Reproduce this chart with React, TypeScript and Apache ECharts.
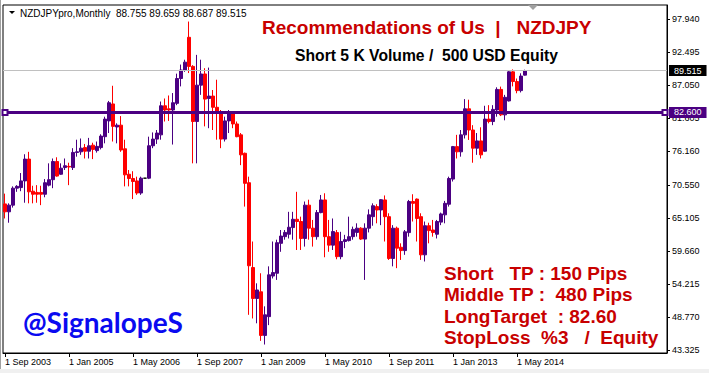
import React, { useEffect, useRef } from 'react';
import * as echarts from 'echarts';

// Monthly NZDJPY candles, Sep 2003 .. Jul 2014
const opens = [
  67.5, 66.2, 67.3, 70.1, 70.2, 71.3, 74.9, 69.6, 69.4, 69.4,
  69.1, 70.6, 71.5, 74.5, 72.4, 73.5, 73.7, 73.5, 76.0, 76.1,
  76.8, 76.2, 77.2, 76.3, 76.8, 78.6, 81.2, 84.0, 80.2, 80.5,
  76.6, 72.4, 71.7, 71.3, 69.3, 71.75, 71.75, 77.1, 78.2, 78.9,
  83.7, 83.2, 83.0, 84.1, 88.2, 89.6, 95.0, 90.2, 81.1, 87.1,
  88.95, 84.9, 85.3, 83.45, 82.5, 78.2, 81.2, 82.46, 80.7, 78.9,
  75.86, 71.0, 57.0, 51.9, 53.0, 45.8, 48.9, 55.6, 56.06, 61.0,
  62.1, 62.5, 63.6, 64.97, 64.6, 61.8, 67.3, 63.5, 62.1, 66.07,
  68.16, 62.1, 60.7, 62.77, 58.8, 61.3, 61.45, 62.1, 62.8, 63.5,
  61.7, 63.5, 65.4, 67.06, 66.5, 68.16, 65.4, 58.5, 63.5, 60.35,
  59.8, 62.77, 67.9, 68.3, 65.4, 59.1, 63.9, 63.2, 62.5, 64.5,
  65.7, 67.45, 71.6, 76.96, 76.1, 78.9, 83.2, 79.7, 76.7, 77.9,
  76.2, 81.5, 81.1, 83.0, 86.4, 82.2, 84.5, 89.3, 87.7, 86.2,
  88.755,
];
const highs = [
  69.2, 67.6, 70.4, 70.6, 72.6, 75.7, 76.1, 70.5, 70.6, 70.5,
  71.6, 74.2, 75.0, 75.2, 74.2, 75.0, 74.3, 76.7, 78.1, 78.3,
  77.4, 78.4, 77.6, 77.8, 79.0, 81.9, 84.5, 87.0, 80.8, 82.0,
  78.1, 73.1, 72.9, 72.0, 72.0, 71.75, 78.6, 79.3, 79.7, 84.4,
  84.9, 85.4, 85.8, 89.0, 90.5, 91.3, 97.6, 90.4, 92.1, 91.3,
  89.9, 90.0, 86.3, 88.0, 83.0, 81.9, 83.0, 82.7, 81.1, 79.2,
  75.97, 72.0, 61.3, 54.4, 56.06, 50.6, 57.2, 61.3, 61.6, 63.2,
  63.2, 66.2, 66.2, 69.5, 65.4, 67.9, 68.2, 64.86, 66.5, 68.98,
  69.26, 64.86, 65.1, 63.2, 62.9, 62.4, 65.4, 63.76, 64.3, 63.65,
  64.3, 66.6, 67.6, 67.45, 68.3, 68.9, 65.96, 64.0, 63.76, 61.0,
  63.2, 68.16, 69.1, 68.4, 65.96, 64.6, 64.4, 64.86, 64.86, 66.07,
  68.0, 72.0, 77.07, 78.9, 79.7, 84.8, 84.7, 80.5, 79.2, 80.15,
  83.7, 83.8, 83.8, 86.75, 86.86, 85.5, 89.5, 89.7, 88.2, 89.06,
  89.659,
];
const lows = [
  65.1, 64.4, 66.9, 69.5, 69.6, 67.7, 67.6, 67.6, 67.7, 67.3,
  68.6, 70.4, 70.1, 72.0, 72.3, 73.1, 70.6, 73.1, 75.3, 75.6,
  75.0, 75.0, 74.9, 75.97, 76.5, 77.5, 79.2, 77.8, 77.5, 76.1,
  70.4, 70.4, 68.3, 69.0, 69.0, 71.75, 71.6, 76.7, 77.4, 78.1,
  81.1, 81.2, 77.3, 83.8, 86.9, 89.3, 89.1, 74.2, 74.2, 85.5,
  80.3, 80.0, 79.7, 78.1, 76.7, 77.8, 79.2, 80.0, 78.5, 73.9,
  67.06, 49.2, 48.6, 47.8, 44.9, 44.3, 47.5, 55.2, 54.96, 59.6,
  61.6, 61.8, 61.6, 59.9, 59.9, 60.46, 61.6, 60.46, 61.6, 65.96,
  58.7, 59.6, 59.9, 58.37, 58.37, 60.2, 61.3, 61.6, 62.1, 61.56,
  54.96, 62.8, 63.9, 64.3, 64.0, 61.3, 58.26, 57.2, 56.9, 58.26,
  59.1, 62.1, 64.6, 61.3, 58.26, 58.0, 61.0, 62.1, 61.8, 64.0,
  64.3, 67.06, 71.2, 75.0, 75.3, 78.3, 78.06, 74.3, 75.6, 75.0,
  76.1, 80.8, 80.5, 81.9, 82.0, 81.3, 84.4, 86.9, 85.76, 85.9,
  88.687,
];
const closes = [
  66.2, 67.3, 70.1, 70.4, 71.3, 74.9, 69.5, 69.1, 69.1, 69.1,
  71.0, 71.5, 74.5, 72.1, 73.4, 73.8, 73.6, 76.0, 76.1, 76.7,
  76.2, 77.1, 76.5, 77.0, 78.7, 81.5, 84.2, 80.3, 80.5, 76.4,
  72.3, 71.7, 71.2, 69.3, 71.75, 71.75, 77.1, 78.2, 79.2, 83.7,
  83.0, 83.0, 84.2, 88.2, 89.6, 90.9, 90.2, 81.1, 87.1, 88.95,
  84.8, 85.3, 83.45, 82.5, 78.2, 81.2, 82.35, 80.7, 78.6, 75.6,
  70.9, 57.3, 51.9, 53.3, 45.8, 49.2, 55.8, 56.17, 61.1, 62.2,
  62.8, 63.65, 64.97, 64.6, 61.8, 67.3, 63.5, 62.1, 66.07, 68.16,
  62.1, 60.7, 62.94, 58.8, 61.3, 61.6, 62.1, 63.3, 63.5, 61.7,
  63.5, 65.7, 67.2, 66.5, 68.2, 65.4, 58.5, 63.5, 60.2, 59.8,
  62.9, 67.9, 67.6, 65.1, 59.1, 63.9, 63.1, 62.8, 64.6, 65.85,
  67.6, 71.7, 76.96, 76.1, 78.9, 83.2, 79.7, 76.7, 77.9, 75.6,
  81.5, 81.1, 83.1, 86.4, 82.2, 85.1, 89.3, 87.7, 86.2, 88.6,
  89.515,
];

const yTickValues = [43.325, 48.77, 54.215, 59.66, 65.105, 70.55, 76.16, 81.605, 87.05, 92.495, 97.94];
const targetLevel = 82.6;
const MONTHS = ['Jan', 'Feb', 'Mar', 'Apr', 'May', 'Jun', 'Jul', 'Aug', 'Sep', 'Oct', 'Nov', 'Dec'];
const START_YEAR = 2003;
const START_MONTH = 8; // Sep
const SLOT_COUNT = 166; // visible month slots (data + right-hand empty space)
const LABEL_EVERY = 16;

const categories = Array.from({ length: SLOT_COUNT }, (_, k) => {
  const m = START_MONTH + k;
  return `1 ${MONTHS[m % 12]} ${START_YEAR + Math.floor(m / 12)}`;
});

const infoLines = [
  'Short   TP : 150 Pips',
  'Middle TP :  480 Pips',
  'LongTarget  : 82.60',
  'StopLoss  %3   /  Equity',
];

const AXIS_FONT = '"Liberation Sans", Arial, sans-serif';
const PURPLE = '#4B0082';
const RED = '#FF0000';
const TEXT_RED = '#C80000';

export default function App() {
  const ref = useRef<HTMLDivElement>(null);
  useEffect(() => {
    const chart = echarts.init(ref.current!, null, { renderer: 'svg', width: 709, height: 373 });
    const n = opens.length;
    const last = n - 1;
    const data = opens.map((o, i) => [o, closes[i], lows[i], highs[i]]);
    const showTick = (index: number) => index % LABEL_EVERY === 0 && index < n;
    const header = `NZDJPYpro,Monthly  ${opens[last].toFixed(3)} ${highs[last].toFixed(3)} ${lows[last].toFixed(3)} ${closes[last].toFixed(3)}`;
    const purpleLine = { color: PURPLE, width: 3, type: 'solid' };

    chart.setOption({
      animation: false,
      backgroundColor: '#ffffff',
      grid: {
        left: 3, right: 42, top: 5, bottom: 20,
        show: true, borderColor: '#000', borderWidth: 1, backgroundColor: '#fff',
      },
      xAxis: {
        type: 'category',
        data: categories,
        boundaryGap: true,
        axisLine: { show: true, lineStyle: { color: '#000', width: 1 } },
        axisTick: { show: true, alignWithLabel: true, interval: showTick, length: 4, lineStyle: { color: '#000' } },
        axisLabel: {
          show: true, interval: showTick, align: 'left', margin: 4,
          fontSize: 9, color: '#000', fontFamily: AXIS_FONT,
        },
        splitLine: { show: false },
      },
      yAxis: {
        type: 'value',
        position: 'right',
        min: 42.9,
        max: 100.33,
        scale: true,
        axisLine: { show: true, lineStyle: { color: '#000', width: 1 } },
        axisTick: { show: true, length: 3, customValues: yTickValues, lineStyle: { color: '#000' } },
        axisLabel: {
          show: true, customValues: yTickValues, margin: 5,
          formatter: (v: number) => v.toFixed(3),
          fontSize: 9, color: '#000', fontFamily: AXIS_FONT,
        },
        splitLine: { show: false },
      },
      series: [
        {
          type: 'candlestick',
          data,
          barWidth: 3,
          itemStyle: {
            color: PURPLE, color0: RED,
            borderColor: PURPLE, borderColor0: RED,
            borderColorDoji: '#000',
            borderWidth: 1,
          },
          markLine: {
            silent: true,
            animation: false,
            symbol: 'none',
            data: [
              {
                yAxis: closes[last],
                lineStyle: { color: '#C0C0C0', width: 1, type: 'solid' },
                label: {
                  show: true, position: 'end', distance: 2,
                  formatter: closes[last].toFixed(3),
                  color: '#fff', backgroundColor: '#000',
                  padding: [1, 5, 0, 5], fontSize: 9, fontFamily: AXIS_FONT, lineHeight: 10,
                },
              },
              {
                yAxis: targetLevel,
                lineStyle: purpleLine,
                label: {
                  show: true, position: 'end', distance: 2,
                  formatter: targetLevel.toFixed(3),
                  color: '#fff', backgroundColor: PURPLE,
                  padding: [1, 5, 0, 5], fontSize: 9, fontFamily: AXIS_FONT, lineHeight: 10,
                },
              },
              [
                { xAxis: categories[0], yAxis: targetLevel, symbol: 'emptyRect', symbolSize: 5, lineStyle: purpleLine, label: { show: false } },
                { xAxis: categories[SLOT_COUNT - 1], yAxis: targetLevel, symbol: 'emptyRect', symbolSize: 5, lineStyle: purpleLine, label: { show: false } },
              ],
            ],
          },
        },
      ],
      graphic: [
        { type: 'rect', left: 0, top: 0, shape: { width: 1, height: 373 }, style: { fill: '#a0a0a0' }, silent: true },
        { type: 'rect', left: 0, top: 369, shape: { width: 709, height: 4 }, style: { fill: '#f0f0f0' }, silent: true },
        { type: 'polygon', shape: { points: [[528, 5], [538, 5], [533, 10]] }, style: { fill: '#a0a0a0' }, silent: true },
        { type: 'polygon', shape: { points: [[9, 11], [15, 11], [12, 14]] }, style: { fill: '#000' }, silent: true },
        {
          type: 'text', x: 20, y: 13, silent: true,
          style: { text: header, fill: '#000', font: `10px ${AXIS_FONT}`, textAlign: 'left', verticalAlign: 'middle' },
        },
        {
          type: 'text', x: 262, y: 27, silent: true,
          style: {
            text: 'Recommendations of Us  |   NZDJPY', fill: TEXT_RED,
            font: `bold 19px "Liberation Sans", Arial, sans-serif`, textAlign: 'left', verticalAlign: 'middle',
          },
        },
        {
          type: 'text', x: 295, y: 55, silent: true,
          style: {
            text: 'Short 5 K Volume /  500 USD Equity', fill: '#000',
            font: `bold 15.7px "Liberation Sans", Arial, sans-serif`, textAlign: 'left', verticalAlign: 'middle',
          },
        },
        ...infoLines.map((t, k) => ({
          type: 'text', x: 444, y: 273 + k * 21.6, silent: true,
          style: {
            text: t, fill: TEXT_RED,
            font: `bold 19px "Liberation Sans", Arial, sans-serif`, textAlign: 'left', verticalAlign: 'middle',
          },
        })),
        {
          type: 'text', x: 23, y: 322, silent: true,
          style: {
            text: '@SignalopeS', fill: '#0A0AF0',
            font: `bold 28px Lato, "Open Sans", sans-serif`, textAlign: 'left', verticalAlign: 'middle',
          },
        },
      ],
    });
    return () => chart.dispose();
  }, []);
  return (
    <div
      ref={ref}
      style={{ position: 'absolute', left: 0, top: 0, width: 709, height: 373, background: '#fff' }}
    />
  );
}
